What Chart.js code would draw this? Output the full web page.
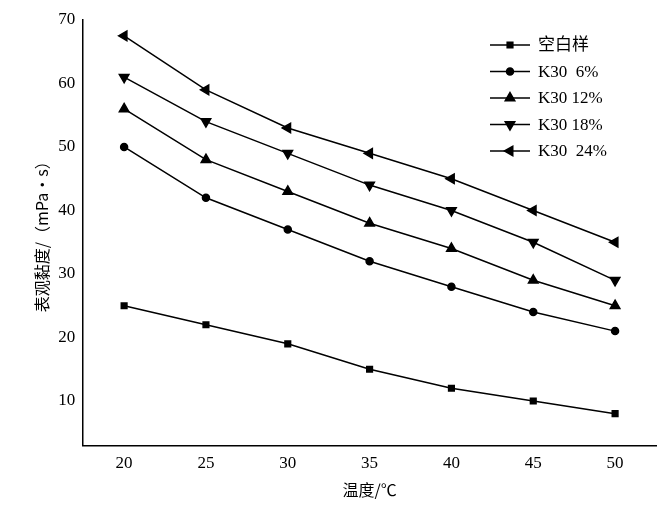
<!DOCTYPE html>
<html><head><meta charset="utf-8">
<script src="https://cdn.jsdelivr.net/npm/chart.js@4"></script>
<style>body{margin:0;background:#fff}#w{width:670px;height:510px}</style>
</head><body><div id="w"><canvas id="c"></canvas></div>
<script>
const temps=[20,25,30,35,40,45,50];
const names=['空白样','K30  6%','K30 12%','K30 18%','K30  24%'];
const blank=[25,22,19,15,12,10,8];
const k6=[50,42,37,32,28,24,21];
const k12=[56,48,43,38,34,29,25];
const k18=[61,54,49,44,40,35,29];
const k24=[67.5,59,53,49,45,40,35];
const yTicks=[10,20,30,40,50,60,70];
const series=[blank,k6,k12,k18,k24];
const styles=[['rect',0,4],['circle',0,3.5],['triangle',0,5.5],['triangle',180,5.5],['triangle',-90,5.5]];
const ds=series.map((s,i)=>({label:names[i],data:s.map((v,j)=>({x:temps[j],y:v})),borderColor:'#000',backgroundColor:'#000',borderWidth:1.5,pointStyle:styles[i][0],rotation:styles[i][1],pointRadius:styles[i][2],tension:0}));
const legendPlugin={id:'lg',afterDraw(ch){const c=ch.ctx;c.save();c.font='17px "Liberation Serif","Noto Sans CJK SC"';c.fillStyle='#000';c.strokeStyle='#000';c.lineWidth=1.5;
names.forEach((n,i)=>{const y=45+i*26.5,x0=490,x1=530;c.beginPath();c.moveTo(x0,y);c.lineTo(x1,y);c.stroke();
Chart.helpers.drawPoint(c,{pointStyle:styles[i][0],rotation:styles[i][1],radius:styles[i][2],borderWidth:1},(x0+x1)/2,y);c.fill();
c.textBaseline='middle';c.fillText(n,538,y+1);});c.restore();}};
new Chart(document.getElementById('c'),{type:'line',data:{datasets:ds},plugins:[legendPlugin],
options:{responsive:true,maintainAspectRatio:false,animation:false,layout:{padding:{top:20,right:14,left:28,bottom:6}},
plugins:{legend:{display:false},tooltip:{enabled:false}},
scales:{x:{type:'linear',min:17.5,max:52.5,afterBuildTicks(a){a.ticks=temps.map(v=>({value:v}))},grid:{display:false,drawTicks:true,tickLength:5},border:{color:'#000',width:1.5},
ticks:{color:'#000',font:{family:'Liberation Serif',size:17}},title:{display:true,text:'温度/℃',color:'#000',font:{family:'Noto Sans CJK SC',size:16}}},
y:{min:3,max:70,afterBuildTicks(a){a.ticks=yTicks.map(v=>({value:v}))},grid:{display:false,tickLength:5},border:{color:'#000',width:1.5},
ticks:{color:'#000',font:{family:'Liberation Serif',size:17}},title:{display:true,text:'表观黏度/（mPa·s）',color:'#000',font:{family:'Noto Sans CJK SC',size:16}}}}}});
</script></body></html>
